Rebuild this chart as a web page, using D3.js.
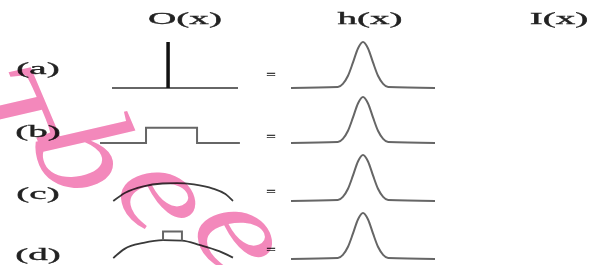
<!DOCTYPE html>
<html>
<head>
<meta charset="utf-8">
<style>
body { margin: 0; background: #fff; }
text { font-family: "Liberation Serif", "DejaVu Serif", serif; fill: #222; }
path.obj { fill: none; stroke: #666; stroke-width: 2px; }
path.arc { fill: none; stroke: #3a3a3a; stroke-width: 1.8px; }
path.spike { fill: none; stroke: #111; stroke-width: 3.5px; }
path.psf { fill: none; stroke: #666; stroke-width: 2px; }
</style>
<title></title></head>
<body>
<script src="https://cdn.jsdelivr.net/npm/d3@7/dist/d3.min.js"></script>
<script>

var rows = ["(a)", "(b)", "(c)", "(d)"];
var titles = ["O(x)", "h(x)", "I(x)"];

// object profiles O(x), [x, height]
var objA = [[-1, 0], [1, 0]];
var spikeA = [[-0.11, 0], [-0.11, 1]];
var objB = [[-1.19, 0], [-0.46, 0], [-0.46, 0.33], [0.35, 0.33], [0.35, 0], [1.03, 0]];
var objC = [[-0.98, 0], [-0.79, 0.18], [-0.5, 0.32], [-0.2, 0.38], [0.03, 0.39], [0.3, 0.36], [0.6, 0.27], [0.8, 0.15], [0.92, 0]];
var objD = [[-0.98, 0.02], [-0.8, 0.22], [-0.5, 0.35], [-0.19, 0.41], [0.11, 0.4], [0.4, 0.3], [0.7, 0.17], [0.92, 0.03]];
var bumpD = [[-0.19, 0.41], [-0.19, 0.6], [0.11, 0.6], [0.11, 0.4]];

// point spread function h(x)
var psfX = [-1, -0.35, -0.28, -0.21, -0.14, -0.07, 0, 0.07, 0.14, 0.21, 0.28, 0.35, 1];
var psfY = [0, 0.02, 0.09, 0.26, 0.55, 0.86, 1, 0.86, 0.55, 0.26, 0.09, 0.02, 0];

var width = 589, height = 265;

var svg = d3.select("body").append("svg")
    .attr("width", width)
    .attr("height", height);

var colX = d3.scaleOrdinal().domain(titles).range([185, 370, 559]);
var baseY = d3.scaleOrdinal().domain(rows).range([88, 143, 201, 259]);
var labelY = d3.scaleOrdinal().domain(rows).range([69.5, 132.5, 194.5, 255.5]);
var eqY = d3.scaleOrdinal().domain(rows).range([75, 137, 192, 250]);

var xO = d3.scaleLinear().domain([-1, 1]).range([112, 238]);
var xH = d3.scaleLinear().domain([-1, 1]).range([291, 435]);
var hUnit = d3.scaleLinear().domain([0, 1]).range([0, 46]);

function stretched(sel, x, y, label, size, sx) {
  sel.append("g")
      .attr("transform", "translate(" + x + "," + y + ") scale(" + sx + ",1)")
    .append("text")
      .attr("text-anchor", "middle")
      .style("font-size", size + "px")
      .style("stroke", "#222")
      .style("stroke-width", "0.35px")
      .text(label);
}

titles.forEach(function(t) {
  stretched(svg, colX(t), 23.5, t, 17, 2.3);
});

rows.forEach(function(r) {
  stretched(svg, 38, labelY(r) + 4, r, 17, 2.3);
  stretched(svg, 271, eqY(r) + 4, "=", 13, 1.3);
});

function lineFor(row, xs, curve) {
  return d3.line()
      .x(function(d) { return xs(d[0]); })
      .y(function(d) { return baseY(row) - hUnit(d[1]); })
      .curve(curve || d3.curveLinear);
}

var g = svg.append("g");

g.append("path").attr("class", "obj").attr("d", lineFor("(a)", xO)(objA));
g.append("path").attr("class", "spike").attr("d", lineFor("(a)", xO)(spikeA));
g.append("path").attr("class", "obj").attr("d", lineFor("(b)", xO)(objB));
g.append("path").attr("class", "arc").attr("d", lineFor("(c)", xO, d3.curveMonotoneX)(objC));
g.append("path").attr("class", "arc").attr("d", lineFor("(d)", xO, d3.curveMonotoneX)(objD));
g.append("path").attr("class", "obj").attr("d", lineFor("(d)", xO)(bumpD));

var psf = psfX.map(function(x, i) { return [x, psfY[i]]; });

g.selectAll("path.psf")
    .data(rows)
    .enter().append("path")
    .attr("class", "psf")
    .attr("d", function(r) { return lineFor(r, xH, d3.curveMonotoneX)(psf); });

// pink watermark laid over the figure
svg.append("text")
    .attr("transform", "translate(-62,92) rotate(27)")
    .attr("rotate", "40")
    .style("font-style", "italic")
    .style("font-size", "145px")
    .style("letter-spacing", "22px")
    .style("fill", "#f06aaa")
    .style("opacity", 0.8)
    .style("mix-blend-mode", "multiply")
    .text("Tbee");

</script>
</body>
</html>
